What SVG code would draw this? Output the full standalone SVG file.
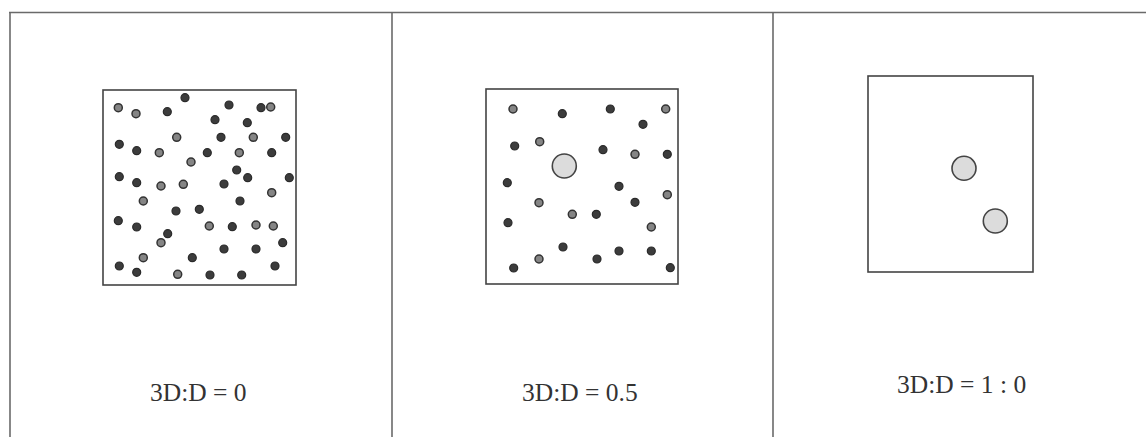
<svg xmlns="http://www.w3.org/2000/svg" width="1146" height="437" viewBox="0 0 1146 437">
<style>
.frame{stroke:#6a6a6a;stroke-width:1.6;fill:none}
.box{stroke:#444;stroke-width:1.6;fill:#fff}
.d{fill:#3c3c3c;stroke:#2a2a2a;stroke-width:1.2}
.g{fill:#858585;stroke:#333;stroke-width:1.5}
.big{fill:#dcdcdc;stroke:#444;stroke-width:1.6}
.lbl{font-family:"Liberation Serif",serif;font-size:25.5px;fill:#333}
</style>
<rect width="1146" height="437" fill="#fff"/>
<g id="frame">
<line class="frame" x1="9" y1="12.5" x2="1146" y2="12.5"/>
<line class="frame" x1="10" y1="12" x2="10" y2="437"/>
<line class="frame" x1="392" y1="12" x2="392" y2="437"/>
<line class="frame" x1="773" y1="12" x2="773" y2="437"/>
</g>
<g id="panel1">
<rect class="box" x="103" y="90" width="193" height="195"/>
<circle class="g" cx="118.3" cy="107.7" r="4"/>
<circle class="g" cx="136" cy="113.7" r="4"/>
<circle class="d" cx="167.3" cy="111.7" r="4"/>
<circle class="d" cx="185" cy="97.7" r="4"/>
<circle class="d" cx="229" cy="105" r="4"/>
<circle class="d" cx="261" cy="107.7" r="4"/>
<circle class="g" cx="270.7" cy="107" r="4"/>
<circle class="d" cx="215" cy="119.7" r="4"/>
<circle class="d" cx="247.3" cy="122.7" r="4"/>
<circle class="g" cx="176.7" cy="137.3" r="4"/>
<circle class="d" cx="221" cy="137.3" r="4"/>
<circle class="g" cx="253.3" cy="137.3" r="4"/>
<circle class="d" cx="285.7" cy="137.3" r="4"/>
<circle class="d" cx="119.3" cy="144.3" r="4"/>
<circle class="d" cx="136.7" cy="150.7" r="4"/>
<circle class="g" cx="159.3" cy="152.7" r="4"/>
<circle class="d" cx="207.3" cy="152.7" r="4"/>
<circle class="g" cx="239.3" cy="152.7" r="4"/>
<circle class="d" cx="271.7" cy="152.7" r="4"/>
<circle class="g" cx="191" cy="162" r="4"/>
<circle class="d" cx="236.7" cy="170" r="4"/>
<circle class="d" cx="247.7" cy="177.7" r="4"/>
<circle class="d" cx="119.3" cy="176.7" r="4"/>
<circle class="d" cx="136.7" cy="182.7" r="4"/>
<circle class="g" cx="161" cy="186" r="4"/>
<circle class="g" cx="183.3" cy="184.3" r="4"/>
<circle class="d" cx="224" cy="184" r="4"/>
<circle class="d" cx="289.3" cy="177.7" r="4"/>
<circle class="g" cx="271.7" cy="192.7" r="4"/>
<circle class="g" cx="143.3" cy="201" r="4"/>
<circle class="d" cx="240" cy="201" r="4"/>
<circle class="d" cx="176" cy="211" r="4"/>
<circle class="d" cx="199.3" cy="209.3" r="4"/>
<circle class="d" cx="118.3" cy="220.7" r="4"/>
<circle class="d" cx="136.7" cy="227" r="4"/>
<circle class="d" cx="167.7" cy="233.7" r="4"/>
<circle class="g" cx="209.3" cy="226" r="4"/>
<circle class="d" cx="232.3" cy="226.7" r="4"/>
<circle class="g" cx="256" cy="225" r="4"/>
<circle class="g" cx="273.3" cy="226" r="4"/>
<circle class="g" cx="161" cy="242.7" r="4"/>
<circle class="d" cx="282.7" cy="242.7" r="4"/>
<circle class="d" cx="224" cy="249" r="4"/>
<circle class="d" cx="256" cy="249" r="4"/>
<circle class="g" cx="143.3" cy="257.7" r="4"/>
<circle class="d" cx="192.3" cy="257.7" r="4"/>
<circle class="d" cx="119.3" cy="266" r="4"/>
<circle class="d" cx="136.7" cy="272.3" r="4"/>
<circle class="g" cx="177.7" cy="274.3" r="4"/>
<circle class="d" cx="210" cy="275" r="4"/>
<circle class="d" cx="241.7" cy="275" r="4"/>
<circle class="d" cx="275" cy="266" r="4"/>
<text class="lbl" x="150" y="401">3D:D = 0</text>
</g>
<g id="panel2">
<rect class="box" x="486" y="89" width="192" height="195"/>
<circle class="g" cx="513" cy="109" r="4"/>
<circle class="d" cx="562.3" cy="113.7" r="4"/>
<circle class="d" cx="610.3" cy="109" r="4"/>
<circle class="g" cx="665.7" cy="109" r="4"/>
<circle class="d" cx="643" cy="124.3" r="4"/>
<circle class="d" cx="514.7" cy="146" r="4"/>
<circle class="g" cx="539.7" cy="141.7" r="4"/>
<circle class="d" cx="603" cy="149.7" r="4"/>
<circle class="g" cx="635" cy="154.3" r="4"/>
<circle class="d" cx="667.3" cy="154.3" r="4"/>
<circle class="big" cx="564.3" cy="166" r="12"/>
<circle class="d" cx="507.3" cy="182.7" r="4"/>
<circle class="d" cx="619" cy="186.3" r="4"/>
<circle class="g" cx="667.3" cy="194.7" r="4"/>
<circle class="g" cx="539" cy="202.7" r="4"/>
<circle class="d" cx="635" cy="202.3" r="4"/>
<circle class="g" cx="572.3" cy="214.3" r="4"/>
<circle class="d" cx="596.3" cy="214.3" r="4"/>
<circle class="d" cx="508" cy="222.7" r="4"/>
<circle class="g" cx="651.3" cy="227" r="4"/>
<circle class="d" cx="563" cy="247" r="4"/>
<circle class="d" cx="619" cy="251" r="4"/>
<circle class="d" cx="651.3" cy="251" r="4"/>
<circle class="g" cx="539" cy="259" r="4"/>
<circle class="d" cx="597" cy="259" r="4"/>
<circle class="d" cx="513.7" cy="268" r="4"/>
<circle class="d" cx="670.3" cy="267.7" r="4"/>
<text class="lbl" x="522" y="401">3D:D = 0.5</text>
</g>
<g id="panel3">
<rect class="box" x="868" y="76" width="165" height="196"/>
<circle class="big" cx="964" cy="168.3" r="12"/>
<circle class="big" cx="995.3" cy="221" r="12"/>
<text class="lbl" x="897" y="393">3D:D = 1 : 0</text>
</g>
</svg>
